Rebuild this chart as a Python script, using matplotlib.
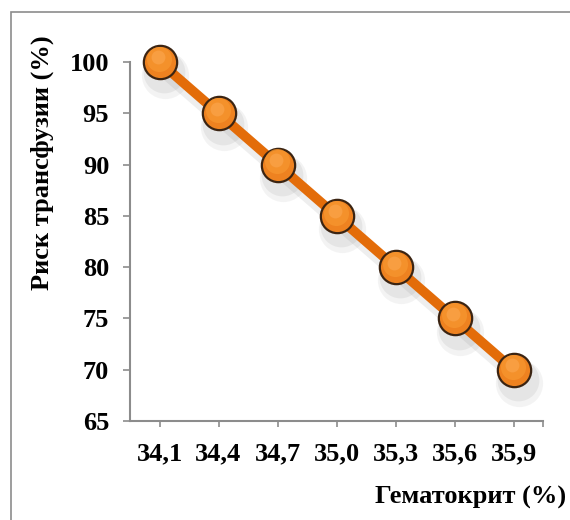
import matplotlib.pyplot as plt
from matplotlib.patches import Rectangle
import numpy as np

# данные
hematocrit = ['34,1', '34,4', '34,7', '35,0', '35,3', '35,6', '35,9']
risk = [100, 95, 90, 85, 80, 75, 70]
y_ticks = [65, 70, 75, 80, 85, 90, 95, 100]

plt.rcParams['font.family'] = ['Liberation Serif', 'DejaVu Serif']
plt.rcParams['font.weight'] = 'bold'

fig = plt.figure(figsize=(5.7, 5.2), dpi=100)
ax = fig.add_axes([130 / 570, 1 - 421 / 520, 413 / 570, 359 / 520])

# рамка вокруг диаграммы (уходит за правый и нижний край)
frame = Rectangle((11 / 570, -0.05), 1.1, 1 - 12 / 520 + 0.05,
                  transform=fig.transFigure, fill=False,
                  edgecolor='#8c8c8c', linewidth=1.2)
fig.add_artist(frame)

x = np.arange(len(hematocrit))
risk_arr = np.array(risk)

# мягкая тень
for dx, dy, a, w in [(0.09, -1.3, 0.10, 34), (0.07, -1.0, 0.14, 30)]:
    ax.plot(x + dx, risk_arr + dy, linestyle='none', marker='o',
            markersize=w, color='#909090', alpha=a, markeredgewidth=0,
            zorder=2, clip_on=False)
ax.plot(x + 0.07, risk_arr - 1.0, color='#909090', linewidth=8,
        alpha=0.15, zorder=2, clip_on=False)

# линия и маркеры
ax.plot(x, risk, color='#E36C09', linewidth=7, zorder=3, clip_on=False)
ax.plot(x, risk, linestyle='none', marker='o', markersize=24,
        markerfacecolor='#EE8220', markeredgecolor='#3b2412',
        markeredgewidth=1.6, zorder=4, clip_on=False)
# мягкий блик (градиент)
ax.plot(x - 0.015, risk_arr + 0.3, linestyle='none', marker='o',
        markersize=18, color='#F6962F', alpha=0.8, markeredgewidth=0,
        zorder=5, clip_on=False)
ax.plot(x - 0.025, risk_arr + 0.45, linestyle='none', marker='o',
        markersize=10, color='#FBA750', alpha=0.6, markeredgewidth=0,
        zorder=5, clip_on=False)

ax.set_xlim(-0.5, 6.5)
ax.set_ylim(65, 100)
ax.set_yticks(y_ticks)
ax.set_xticks(list(x) + [6.5])
ax.set_xticklabels(hematocrit + [''])

for side in ['top', 'right']:
    ax.spines[side].set_visible(False)
for side in ['left', 'bottom']:
    ax.spines[side].set_color('#8c8c8c')
    ax.spines[side].set_linewidth(1.5)

ax.tick_params(axis='y', direction='out', length=5, width=1.2,
               color='#8c8c8c', labelsize=19, pad=10)
ax.tick_params(axis='x', direction='out', length=4, width=1.2,
               color='#8c8c8c', labelsize=19, pad=11)
for lab in ax.get_xticklabels() + ax.get_yticklabels():
    lab.set_fontweight('bold')

fig.text(42 / 570, 1 - 163 / 520, 'Риск трансфузии (%)', rotation=90,
         ha='center', va='center', fontsize=19, fontweight='bold')
fig.text(566 / 570, 1 - 497 / 520, 'Гематокрит (%)', ha='right',
         va='center', fontsize=19, fontweight='bold')

fig.savefig('out.png', dpi=100)
